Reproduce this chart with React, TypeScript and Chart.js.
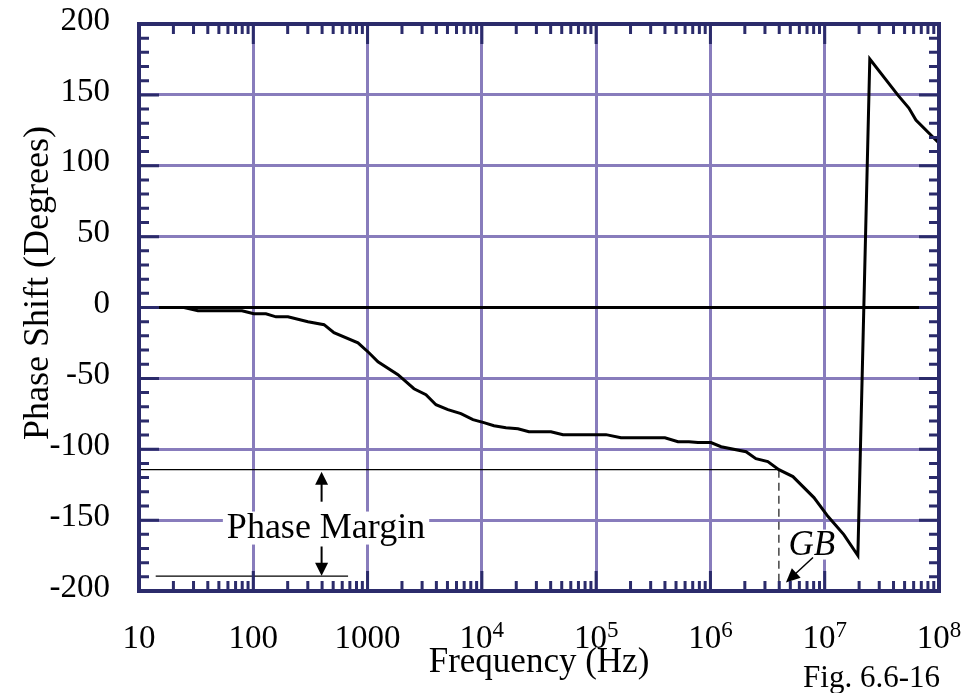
import React, { useEffect, useRef } from 'react';
import { Chart, registerables } from 'chart.js';
Chart.register(...registerables);

// Measured curve: frequency (Hz) and phase shift (degrees)
const freqHz = [10, 24.8, 32.8, 79.6, 101, 129, 158, 201, 301, 416, 508, 824, 1028, 1233, 1845, 2547, 3243, 3966, 5047, 6561, 8356, 10420, 12760, 16250, 20700, 25800, 40200, 51300, 122000, 165000, 400000, 520000, 649000, 778000, 1.01e6, 1.24e6, 2.05e6, 2.5e6, 3.18e6, 3.97e6, 5.27e6, 8.05e6, 1.07e7, 1.47e7, 1.95e7, 2.48e7, 4.37e7, 5.45e7, 6.28e7, 9.77e7, 1e8];
const phaseDeg = [0, 0, -2.3, -2.3, -4.4, -4.4, -6.6, -6.6, -10, -12.1, -17.8, -24.9, -31.9, -38.3, -47.4, -57.3, -61.5, -68.6, -72.1, -74.9, -79.1, -81.2, -83.4, -84.8, -85.5, -87.6, -87.6, -89.7, -89.7, -91.9, -91.9, -94.7, -94.7, -95.3, -95.3, -98.2, -101.7, -106.6, -108.7, -114.4, -119.3, -134.1, -147.5, -160.2, -175.0, 175.3, 149.8, 140.7, 132.3, 116.8, 116];

// Axis ticks
const xTickValues = [10, 100, 1000, 1e4, 1e5, 1e6, 1e7, 1e8];
const xTickBase = ['10', '100', '1000', '10', '10', '10', '10', '10'];
const xTickSup = ['', '', '', '4', '5', '6', '7', '8'];
const yMin = -200;
const yMax = 200;
const yStep = 50;

// Annotation values
const gbFreq = 3.97e6;
const gbPhase = -114.4;
const pmLowPhase = -189.5;
const pmLowFreqs = [14, 675];
const pmArrowFreq = 396;
const pmArrowUp = [-137, -115.8];
const pmArrowDown = [-168.6, -189.3];
const pmLabel = { f: 433, p: -162.3, text: 'Phase Margin' };
const gbLabel = { f: 7.7e6, p: -174.3, text: 'GB' };
const gbArrow = { from: [7.9e6, -176.4], to: [4.58e6, -194] };

const SERIF = "'Liberation Serif', 'Times New Roman', serif";
const NAVY = '#2b2b6b';
const GRID = '#887cbc';

function arrowHead(ctx: CanvasRenderingContext2D, x1: number, y1: number, x2: number, y2: number, len: number, half: number) {
  const ang = Math.atan2(y2 - y1, x2 - x1);
  ctx.beginPath();
  ctx.moveTo(x2, y2);
  ctx.lineTo(x2 - len * Math.cos(ang) + half * Math.sin(ang), y2 - len * Math.sin(ang) - half * Math.cos(ang));
  ctx.lineTo(x2 - len * Math.cos(ang) - half * Math.sin(ang), y2 - len * Math.sin(ang) + half * Math.cos(ang));
  ctx.closePath();
  ctx.fill();
}

const deco = {
  id: 'deco',
  afterDatasetsDraw(chart: any) {
    const { ctx, scales } = chart;
    const x = scales.x, y = scales.y;
    ctx.save();
    ctx.strokeStyle = '#000';
    ctx.fillStyle = '#000';
    // phase margin arrows
    const ax = x.getPixelForValue(pmArrowFreq);
    const drawArrow = (p0: number, p1: number) => {
      const y0 = y.getPixelForValue(p0), y1 = y.getPixelForValue(p1);
      const dir = y1 > y0 ? 1 : -1;
      ctx.lineWidth = 2;
      ctx.beginPath();
      ctx.moveTo(ax, y0);
      ctx.lineTo(ax, y1 - dir * 12);
      ctx.stroke();
      arrowHead(ctx, ax, y0, ax, y1, 13, 6.5);
    };
    drawArrow(pmArrowUp[0], pmArrowUp[1]);
    drawArrow(pmArrowDown[0], pmArrowDown[1]);

    // Phase Margin label
    ctx.font = `36px ${SERIF}`;
    ctx.textAlign = 'center';
    ctx.textBaseline = 'alphabetic';
    const lx = x.getPixelForValue(pmLabel.f), ly = y.getPixelForValue(pmLabel.p);
    const lw = ctx.measureText(pmLabel.text).width;
    ctx.fillStyle = '#fff';
    ctx.fillRect(lx - lw / 2 - 4, ly - 26, lw + 8, 33);
    ctx.fillStyle = '#000';
    ctx.fillText(pmLabel.text, lx, ly);

    // GB label
    ctx.font = `italic 35px ${SERIF}`;
    const gx = x.getPixelForValue(gbLabel.f), gy = y.getPixelForValue(gbLabel.p);
    const gw = ctx.measureText(gbLabel.text).width;
    ctx.fillStyle = '#fff';
    ctx.fillRect(gx - gw / 2 - 2, gy - 25, gw + 4, 30);
    ctx.fillStyle = '#000';
    ctx.fillText(gbLabel.text, gx, gy);

    // GB arrow
    const a0x = x.getPixelForValue(gbArrow.from[0]), a0y = y.getPixelForValue(gbArrow.from[1]);
    const a1x = x.getPixelForValue(gbArrow.to[0]), a1y = y.getPixelForValue(gbArrow.to[1]);
    ctx.lineWidth = 1.5;
    ctx.beginPath();
    ctx.moveTo(a0x, a0y);
    ctx.lineTo(a1x + (a0x - a1x) * 0.35, a1y + (a0y - a1y) * 0.35);
    ctx.stroke();
    arrowHead(ctx, a0x, a0y, a1x, a1y, 14, 6.5);
    ctx.restore();
  },
  afterDraw(chart: any) {
    const { ctx, chartArea: a, scales } = chart;
    const x = scales.x, y = scales.y;
    ctx.save();
    // ticks
    ctx.strokeStyle = NAVY;
    ctx.lineWidth = 3;
    ctx.beginPath();
    for (let i = 0; i < xTickValues.length; i++) {
      const d = xTickValues[i];
      const px = x.getPixelForValue(d);
      ctx.moveTo(px, a.top); ctx.lineTo(px, a.top + 20);
      ctx.moveTo(px, a.bottom); ctx.lineTo(px, a.bottom - 20);
      if (i < xTickValues.length - 1) {
        for (let m = 2; m <= 9; m++) {
          const mx = x.getPixelForValue(m * d);
          ctx.moveTo(mx, a.top); ctx.lineTo(mx, a.top + 10);
          ctx.moveTo(mx, a.bottom); ctx.lineTo(mx, a.bottom - 10);
        }
      }
    }
    for (let v = yMin; v <= yMax; v += 10) {
      const py = y.getPixelForValue(v);
      const len = v % yStep === 0 ? 20 : 10;
      ctx.moveTo(a.left, py); ctx.lineTo(a.left + len, py);
      ctx.moveTo(a.right, py); ctx.lineTo(a.right - len, py);
    }
    ctx.stroke();
    // frame
    ctx.lineWidth = 4;
    ctx.strokeRect(a.left, a.top, a.right - a.left, a.bottom - a.top);

    // x tick labels
    ctx.fillStyle = '#000';
    ctx.textBaseline = 'alphabetic';
    ctx.textAlign = 'left';
    for (let i = 0; i < xTickValues.length; i++) {
      const px = x.getPixelForValue(xTickValues[i]);
      ctx.font = `33px ${SERIF}`;
      const bw = ctx.measureText(xTickBase[i]).width;
      ctx.font = `23px ${SERIF}`;
      const sw = xTickSup[i] ? ctx.measureText(xTickSup[i]).width : 0;
      const start = px - (bw + sw) / 2;
      ctx.font = `33px ${SERIF}`;
      ctx.fillText(xTickBase[i], start, a.bottom + 57);
      if (xTickSup[i]) {
        ctx.font = `23px ${SERIF}`;
        ctx.fillText(xTickSup[i], start + bw, a.bottom + 46);
      }
    }
    // axis titles
    ctx.font = `35px ${SERIF}`;
    ctx.textAlign = 'center';
    ctx.fillText('Frequency (Hz)', (a.left + a.right) / 2, a.bottom + 81);
    ctx.save();
    ctx.font = `36px ${SERIF}`;
    ctx.translate(48, 283);
    ctx.rotate(-Math.PI / 2);
    ctx.fillText('Phase Shift (Degrees)', 0, 0);
    ctx.restore();
    // figure caption
    ctx.font = `31px ${SERIF}`;
    ctx.textAlign = 'right';
    ctx.fillText('Fig. 6.6-16', 940, 687);
    ctx.restore();
  },
};

export default function App() {
  const ref = useRef<HTMLCanvasElement | null>(null);
  useEffect(() => {
    if (!ref.current) return;
    const curve = freqHz.map((f, i) => ({ x: f, y: phaseDeg[i] }));
    const chart = new Chart(ref.current, {
      type: 'line',
      data: {
        datasets: [
          { data: curve, borderColor: '#000', borderWidth: 3, pointRadius: 0, tension: 0, fill: false },
          { data: [{ x: xTickValues[0], y: gbPhase }, { x: gbFreq, y: gbPhase }], borderColor: '#000', borderWidth: 1.3, pointRadius: 0 },
          { data: [{ x: gbFreq, y: gbPhase }, { x: gbFreq, y: yMin }], borderColor: '#444', borderWidth: 1.5, borderDash: [8, 5], pointRadius: 0 },
          { data: [{ x: pmLowFreqs[0], y: pmLowPhase }, { x: pmLowFreqs[1], y: pmLowPhase }], borderColor: '#000', borderWidth: 1.3, pointRadius: 0 },
        ],
      },
      options: {
        responsive: false,
        animation: false,
        events: [],
        layout: { padding: { top: 24, right: 41, left: 0, bottom: 0 } },
        plugins: { legend: { display: false }, tooltip: { enabled: false }, title: { display: false } },
        scales: {
          x: {
            type: 'logarithmic',
            min: 10,
            max: 1e8,
            afterBuildTicks: (s: any) => { s.ticks = xTickValues.map((v) => ({ value: v })); },
            afterFit: (s: any) => { s.height = 102; s.paddingLeft = 0; s.paddingRight = 0; s.paddingTop = 0; s.paddingBottom = 0; },
            ticks: { display: false },
            grid: { color: GRID, lineWidth: 3, drawTicks: false },
            border: { display: false },
          },
          y: {
            min: yMin,
            max: yMax,
            afterFit: (s: any) => { s.width = 139; s.paddingTop = 0; s.paddingBottom = 0; s.paddingLeft = 0; s.paddingRight = 0; },
            ticks: { stepSize: yStep, padding: 29, labelOffset: -3, color: '#000', font: { family: SERIF, size: 33 } },
            grid: {
              color: (c: any) => (c.tick && c.tick.value === 0 ? '#000' : GRID),
              lineWidth: 3,
              drawTicks: false,
            },
            border: { display: false },
          },
        },
      },
      plugins: [deco],
    } as any);
    return () => chart.destroy();
  }, []);
  return (
    <div style={{ position: 'absolute', left: 0, top: 0, width: 980, height: 693, background: '#fff' }}>
      <canvas ref={ref} width={980} height={693} style={{ display: 'block' }} />
    </div>
  );
}
